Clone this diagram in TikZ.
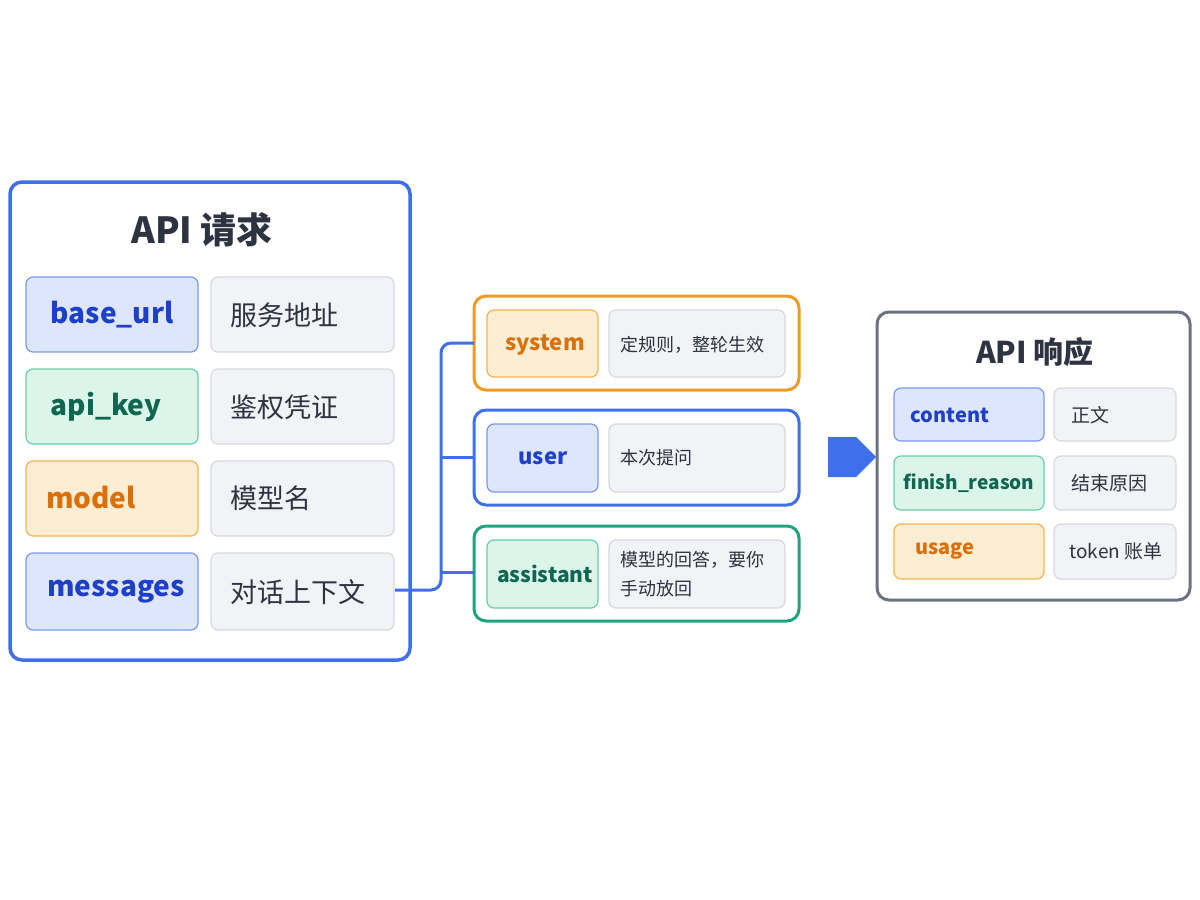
\documentclass[tikz,border=0pt]{standalone}
\usepackage{fontspec}
\setmainfont{Noto Sans CJK SC}
\usetikzlibrary{shapes.arrows}
\definecolor{bB}{HTML}{3F6FEA}\definecolor{bF}{HTML}{DDE6FC}\definecolor{bE}{HTML}{7A98F0}\definecolor{bT}{HTML}{1E3FC8}
\definecolor{gB}{HTML}{1FA37F}\definecolor{gF}{HTML}{DBF5EB}\definecolor{gE}{HTML}{6CCBA8}\definecolor{gT}{HTML}{0E6651}
\definecolor{oB}{HTML}{EE9B22}\definecolor{oF}{HTML}{FDEDD3}\definecolor{oE}{HTML}{F2B352}\definecolor{oT}{HTML}{DB700B}
\definecolor{vF}{HTML}{F2F3F6}\definecolor{vE}{HTML}{D6D9DF}\definecolor{tx}{HTML}{2D3340}\definecolor{gr}{HTML}{6B7280}
\begin{document}
\begin{tikzpicture}[x=1pt,y=-1pt,
 panel/.style={draw=#1,line width=3.5pt,rounded corners=12pt,fill=white},
 key/.style n args={3}{draw=#2,fill=#1,text=#3,line width=1.2pt,rounded corners=7pt,font=\bfseries},
 val/.style={draw=vE,fill=vF,line width=1.2pt,rounded corners=7pt,text=tx},
 con/.style={draw=bB,line width=3pt,rounded corners=10pt}]
\useasboundingbox (0,0) rectangle (1200,900);
% left panel
\draw[panel=bB] (10,182) rectangle (410,660);
\node[text=tx,font=\bfseries\fontsize{36}{40}\selectfont] (t1) at (202,230) {API 请求};
\newcommand\lrow[6]{%
 \draw[key={#3}{#4}{#5}] (26,#1) rectangle (198,#2);
 \draw[val] (211,#1) rectangle (394,#2);}
\lrow{277}{352}{bF}{bE}{bT}{}
\lrow{369}{444}{gF}{gE}{gT}{}
\lrow{461}{536}{oF}{oE}{oT}{}
\lrow{553}{630}{bF}{bE}{bT}{}
\node[text=bT,font=\bfseries\fontsize{28}{30}\selectfont] (k1) at (112,315) {base\_url};
\node[text=gT,font=\bfseries\fontsize{28}{30}\selectfont] (k2) at (106,407) {api\_key};
\node[text=oT,font=\bfseries\fontsize{28}{30}\selectfont] (k3) at (91,498) {model};
\node[text=bT,font=\bfseries\fontsize{28}{30}\selectfont] (k4) at (116,592) {messages};
\node[text=tx,anchor=west,font=\fontsize{27}{30}\selectfont] (v1) at (227,315) {服务地址};
\node[text=tx,anchor=west,font=\fontsize{27}{30}\selectfont] (v2) at (227,407) {鉴权凭证};
\node[text=tx,anchor=west,font=\fontsize{27}{30}\selectfont] (v3) at (227,498) {模型名};
\node[text=tx,anchor=west,font=\fontsize{27}{30}\selectfont] (v4) at (227,592) {对话上下文};
% middle
\newcommand\mrow[7]{%
 \draw[panel=#3,line width=3pt] (474,#1) rectangle (799,#2);
 \draw[key={#4}{#5}{#6}] (487,{#1+14}) rectangle (598,{#2-13});
 \draw[val] (609,{#1+14}) rectangle (785,{#2-13});}
\mrow{296}{390}{oB}{oF}{oE}{oT}{}
\mrow{410}{505}{bB}{bF}{bE}{bT}{}
\mrow{526}{621}{gB}{gF}{gE}{gT}{}
\node[text=oT,font=\bfseries\fontsize{22}{24}\selectfont] (s) at (545,345) {system};
\node[text=bT,font=\bfseries\fontsize{22}{24}\selectfont] (u) at (543,458) {user};
\node[text=gT,font=\bfseries\fontsize{21}{24}\selectfont] (a) at (545,574) {assistant};
\node[text=tx,anchor=west,font=\fontsize{18}{20}\selectfont] (sv) at (617,345) {定规则，整轮生效};
\node[text=tx,anchor=west,font=\fontsize{18}{20}\selectfont] (uv) at (617,458) {本次提问};
\node[text=tx,anchor=west,align=left,font=\fontsize{18}{29}\selectfont] (av) at (617,574) {模型的回答，要你\\手动放回};
\coordinate (m0) at (395,590);
\coordinate (b1) at (474,343);\coordinate (b2) at (474,457);\coordinate (b3) at (474,572);
\draw[con] (m0) -- (441,590) -- (441,343) -- (b1);
\draw[con] (441,457) -- (b2);
\draw[con] (441,572) -- (b3);
% arrow
\node[single arrow,fill=bB,minimum width=40pt,single arrow head extend=0pt,minimum height=48pt,inner sep=0pt,single arrow tip angle=90] (ar) at (842,457) {};
% right
\draw[panel=gr,line width=3pt] (877,312) rectangle (1190,600);
\node[text=tx,font=\bfseries\fontsize{30}{34}\selectfont] (t2) at (1035,352) {API 响应};
\newcommand\rrow[5]{%
 \draw[key={#3}{#4}{#5}] (894,#1) rectangle (1044,#2);
 \draw[val] (1054,#1) rectangle (1176,#2);}
\rrow{388}{441}{bF}{bE}{bT}
\rrow{456}{510}{gF}{gE}{gT}
\rrow{524}{579}{oF}{oE}{oT}
\node[text=bT,font=\bfseries\fontsize{20}{22}\selectfont] (c1) at (950,415) {content};
\node[text=gT,font=\bfseries\fontsize{19}{22}\selectfont] (c2) at (969,483) {finish\_reason};
\node[text=oT,font=\bfseries\fontsize{20}{22}\selectfont] (c3) at (945,551) {usage};
\node[text=tx,anchor=west,font=\fontsize{19}{22}\selectfont] (d1) at (1068,415) {正文};
\node[text=tx,anchor=west,font=\fontsize{19}{22}\selectfont] (d2) at (1068,483) {结束原因};
\node[text=tx,anchor=west,font=\fontsize{19}{22}\selectfont] (d3) at (1066,551) {token 账单};
\end{tikzpicture}
\end{document}
